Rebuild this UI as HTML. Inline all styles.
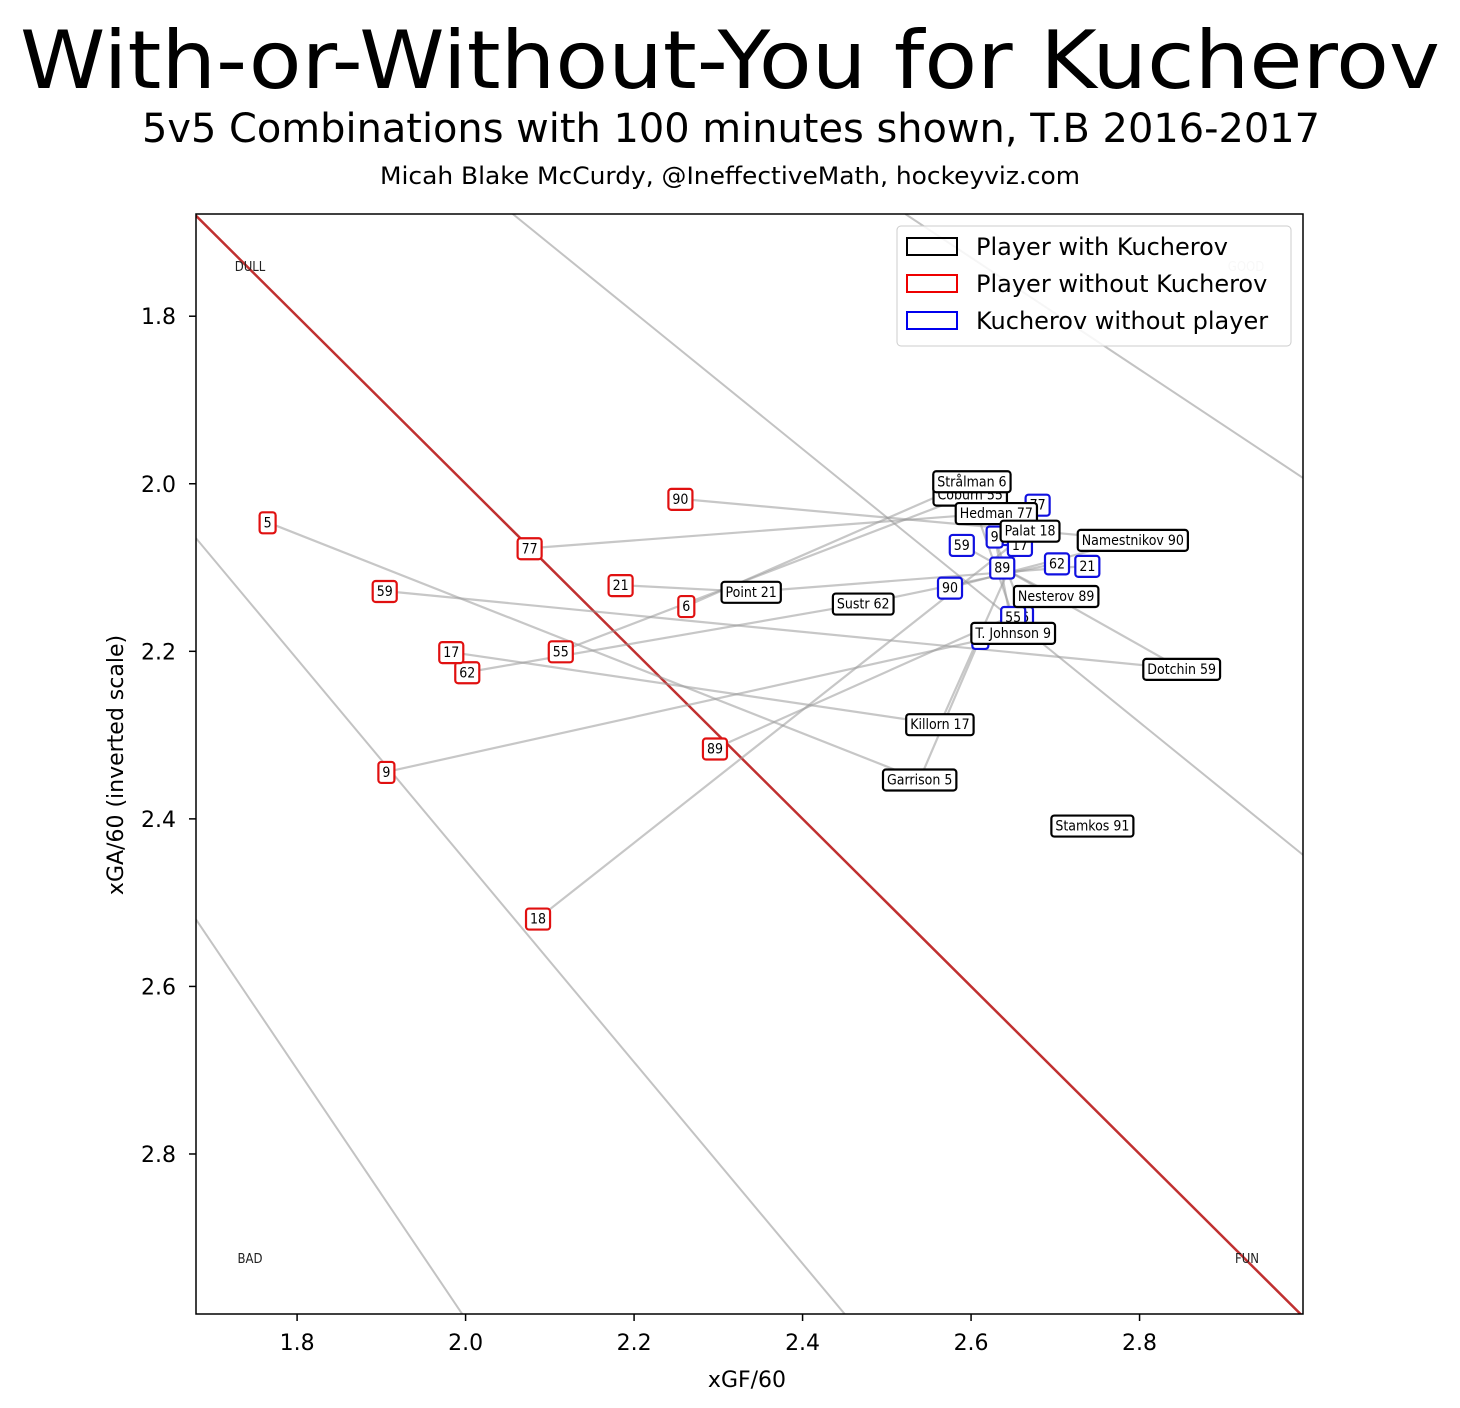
<!DOCTYPE html>
<html><head><meta charset="utf-8"><style>
html,body{margin:0;padding:0;background:#fff;}
svg{display:block;font-family:"DejaVu Sans","Liberation Sans",sans-serif;}
</style></head><body>
<svg id="chart" width="1460" height="1408" viewBox="0 0 1460 1408" xmlns="http://www.w3.org/2000/svg">
<text x="730" y="88" font-size="80" text-anchor="middle" textLength="1420" lengthAdjust="spacingAndGlyphs">With-or-Without-You for Kucherov</text>
<text x="731" y="142" font-size="40" text-anchor="middle" textLength="1178" lengthAdjust="spacingAndGlyphs">5v5 Combinations with 100 minutes shown, T.B 2016-2017</text>
<text x="730" y="184" font-size="24" text-anchor="middle" textLength="700" lengthAdjust="spacingAndGlyphs">Micah Blake McCurdy, @IneffectiveMath, hockeyviz.com</text>
<defs><clipPath id="plotclip"><rect x="196" y="214" width="1107" height="1100"/></clipPath></defs>
<g id="refs" clip-path="url(#plotclip)"></g>
<g id="links" clip-path="url(#plotclip)"></g>
<g id="marks"></g>
<g id="axes"></g>
<g id="legend">
<rect x="897" y="226" width="394" height="120" rx="4" fill="#fff" fill-opacity="0.85" stroke="#ccc"/>
<rect x="907" y="238" width="50" height="17" fill="none" stroke="#000" stroke-width="2"/>
<text x="976" y="255" font-size="24">Player with Kucherov</text>
<rect x="907" y="275" width="50" height="17" fill="none" stroke="#e00" stroke-width="2"/>
<text x="976" y="292" font-size="24">Player without Kucherov</text>
<rect x="907" y="312" width="50" height="17" fill="none" stroke="#00e" stroke-width="2"/>
<text x="976" y="329" font-size="24">Kucherov without player</text>
</g>
</svg>
<script>
const xTicks = [1.8, 2.0, 2.2, 2.4, 2.6, 2.8];
const yTicks = [1.8, 2.0, 2.2, 2.4, 2.6, 2.8];
const xDomain = [1.68, 2.994];
const yDomain = [1.678, 2.991];
const playerNames = ["Strålman 6","Coburn 55","Hedman 77","Palat 18","Namestnikov 90","Point 21","Sustr 62","Nesterov 89","T. Johnson 9","Dotchin 59","Killorn 17","Garrison 5","Stamkos 91"];
const playerNums = ["6","55","77","18","90","21","62","89","9","59","17","5","91"];
const withXGF = [2.601,2.599,2.630,2.670,2.792,2.339,2.472,2.701,2.650,2.850,2.563,2.539,2.744];
const withXGA = [1.997,2.013,2.035,2.056,2.067,2.129,2.143,2.134,2.178,2.221,2.287,2.353,2.408];
const playerWithoutXGF = [2.262,2.113,2.076,2.086,2.255,2.184,2.002,2.296,1.906,1.904,1.983,1.765,null];
const playerWithoutXGA = [2.146,2.200,2.077,2.519,2.018,2.121,2.225,2.316,2.344,2.128,2.201,2.046,null];
const kuchWithoutXGF = [2.664,2.650,2.679,2.650,2.575,2.738,2.702,2.637,2.628,2.589,2.658,2.611,null];
const kuchWithoutXGA = [2.159,2.159,2.025,2.060,2.124,2.098,2.095,2.100,2.063,2.073,2.073,2.184,null];
const refLineX1 = [1.68, 1.68, 2.056, 2.522];
const refLineY1 = [2.065, 2.520, 1.678, 1.678];
const refLineX2 = [2.450, 1.996, 2.994, 2.994];
const refLineY2 = [2.991, 2.991, 2.443, 1.993];

const L=196,R=1303,T=214,B=1314;
function sx(v){return L+(v-xDomain[0])/(xDomain[1]-xDomain[0])*(R-L);}
function sy(v){return T+(v-yDomain[0])/(yDomain[1]-yDomain[0])*(B-T);}
const NS="http://www.w3.org/2000/svg";
function mk(tag,attrs,parent){const e=document.createElementNS(NS,tag);for(const k in attrs)e.setAttribute(k,attrs[k]);parent.appendChild(e);return e;}

const refs=document.getElementById('refs');
for(let i=0;i<refLineX1.length;i++){
  const l=mk('line',{x1:sx(refLineX1[i]),y1:sy(refLineY1[i]),x2:sx(refLineX2[i]),y2:sy(refLineY2[i]),stroke:'#aaa','stroke-width':2,'stroke-opacity':0.7},refs);
  
  
}
const diag=mk('line',{x1:sx(1.6),y1:sy(1.6),x2:sx(3.0),y2:sy(3.0),stroke:'#c03030','stroke-width':2.5},refs);



const links=document.getElementById('links');
for(let i=0;i<playerNames.length;i++){
  if(playerWithoutXGF[i]!==null){
    const l=mk('line',{x1:sx(playerWithoutXGF[i]),y1:sy(playerWithoutXGA[i]),x2:sx(withXGF[i]),y2:sy(withXGA[i]),stroke:'#999','stroke-width':2.2,'stroke-opacity':0.55},links);
    
    
  }
  if(kuchWithoutXGF[i]!==null){
    const l=mk('line',{x1:sx(kuchWithoutXGF[i]),y1:sy(kuchWithoutXGA[i]),x2:sx(withXGF[i]),y2:sy(withXGA[i]),stroke:'#999','stroke-width':2.2,'stroke-opacity':0.55},links);
    
    
  }
}

const marks=document.getElementById('marks');
function label(x,y,txt,color,name){
  const g=mk('g',{},marks);
  
  
  const r=mk('rect',{fill:'#fff',stroke:color,'stroke-width':2.2,rx:3},g);
  const t=mk('text',{x:x,y:y+5,'font-size':14,'text-anchor':'middle','font-family':'"DejaVu Sans Condensed","DejaVu Sans",sans-serif'},g);
  t.textContent=txt;
  let w=txt.length*7.5;
  try{const m=t.getComputedTextLength();if(m>0)w=m;}catch(e){}
  r.setAttribute('x',x-w/2-4);r.setAttribute('y',y-10);r.setAttribute('width',w+8);r.setAttribute('height',21);
}
for(let i=0;i<playerNames.length;i++){
  if(kuchWithoutXGF[i]!==null) label(sx(kuchWithoutXGF[i]),sy(kuchWithoutXGA[i]),playerNums[i],'#1010e0','kucherov-without-label');
}
for(let i=0;i<playerNames.length;i++){
  if(playerWithoutXGF[i]!==null) label(sx(playerWithoutXGF[i]),sy(playerWithoutXGA[i]),playerNums[i],'#e01010','player-without-label');
}
const order=[1,0,2,4,5,6,7,8,9,10,11,12,3];
for(const i of order){ label(sx(withXGF[i]),sy(withXGA[i]),playerNames[i],'#000','player-with-label'); }

const axes=document.getElementById('axes');
const fr=mk('rect',{x:L,y:T,width:R-L,height:B-T,fill:'none',stroke:'#000','stroke-width':1.5},axes);


xTicks.forEach(v=>{
  const x=sx(v);
  mk('line',{x1:x,y1:B,x2:x,y2:B+7,stroke:'#000','stroke-width':1.5},axes);
  const t=mk('text',{x:x,y:B+36,'font-size':22,'text-anchor':'middle'},axes);
  t.textContent=v.toFixed(1);
  
  
});
yTicks.forEach(v=>{
  const y=sy(v);
  mk('line',{x1:L-7,y1:y,x2:L,y2:y,stroke:'#000','stroke-width':1.5},axes);
  const t=mk('text',{x:L-20,y:y+8,'font-size':22,'text-anchor':'end'},axes);
  t.textContent=v.toFixed(1);
  
  
});
const xt=mk('text',{x:747,y:1387,'font-size':22,'text-anchor':'middle'},axes);
xt.textContent='xGF/60';


const yt=mk('text',{x:0,y:0,'font-size':22,'text-anchor':'middle',transform:'translate(123,765) rotate(-90)'},axes);
yt.textContent='xGA/60 (inverted scale)';


[['DULL',250,271,'#222','corner-dull'],['GOOD',1246,271,'#ccc','corner-good'],['BAD',250,1263,'#222','corner-bad'],['FUN',1247,1263,'#222','corner-fun']].forEach(c=>{
  const t=mk('text',{x:c[1],y:c[2],'font-size':13,'text-anchor':'middle',fill:c[3],'font-family':'"DejaVu Sans Condensed","DejaVu Sans",sans-serif'},axes);
  t.textContent=c[0];
  
  
});
</script>
</body></html>
